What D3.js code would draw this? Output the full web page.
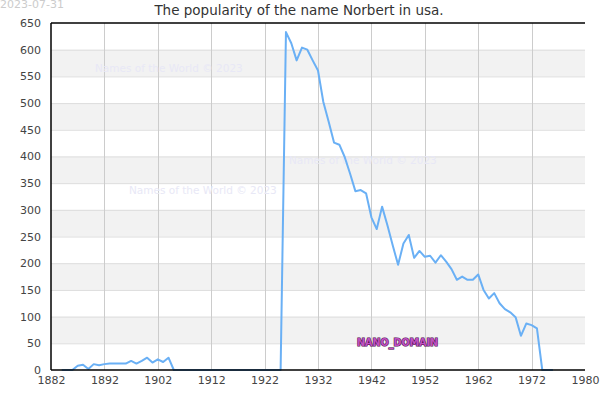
<!DOCTYPE html>
<html><head><meta charset="utf-8">
<script src="https://cdn.jsdelivr.net/npm/d3@7"></script>
<style>body{margin:0;background:#fff}svg{display:block;font-family:"DejaVu Sans",sans-serif}</style>
</head><body><svg id="c" width="600" height="400"></svg>
<script>
const years = d3.range(1884, 1977);
const values = [
  0,0,0,8,10,2,11,9,11,12,12,12,12,17,12,17,23,14,20,15,23,0, // 1884-1905
  0,0,0,0,0,0,0,0,0,0,0,0,0,0,0,0,0,0,0,0, // 1906-1925
  633,612,580,604,600,580,561,502,465,426,422,399,368,335,337,331,286,264,306,271,233,197,237,253,210, // 1926-1950
  223,212,214,201,215,203,189,169,175,169,169,179,150,134,144,125,114,108,99,64,87,84,78, // 1951-1973
  0,0,0 // 1974-1976
];
const xTicks = [1882,1892,1902,1912,1922,1932,1942,1952,1962,1972,1982];
const xTickLabels = ["1882","1892","1902","1912","1922","1932","1942","1952","1962","1972","1980"];
const yTicks = [0,50,100,150,200,250,300,350,400,450,500,550,600,650];
const title = "The popularity of the name Norbert in usa.";
const dateText = "2023-07-31";
const watermark = "Names of the World © 2023";
const domainText = "NANO_DOMAIN";

const data = years.map((y,i)=>({year:y, v:values[i]}));
const svg = d3.select("#c");
const L=51, R=585, T=23, B=370;
const x = d3.scaleLinear().domain([1882,1982]).range([L,R]);
const y = d3.scaleLinear().domain([0,650]).range([B,T]);

// bands
const bands = [[50,100],[150,200],[250,300],[350,400],[450,500],[550,600]];
svg.append("g").selectAll("rect").data(bands).join("rect")
  .attr("x",L).attr("width",R-L)
  .attr("y",d=>y(d[1])).attr("height",d=>y(d[0])-y(d[1]))
  .attr("fill","#f2f2f2");
// horizontal grid
svg.append("g").selectAll("line").data(yTicks.slice(1,-1)).join("line")
  .attr("x1",L).attr("x2",R).attr("y1",d=>y(d)+0.5).attr("y2",d=>y(d)+0.5)
  .attr("stroke","#dddddd").attr("stroke-width",1);
// vertical grid
svg.append("g").selectAll("line").data(xTicks.slice(1,-1)).join("line")
  .attr("y1",T).attr("y2",B).attr("x1",d=>Math.round(x(d))+0.5).attr("x2",d=>Math.round(x(d))+0.5)
  .attr("stroke","#cccccc").attr("stroke-width",1);

// watermarks
const wm = [[95,72],[289,164],[129,194]];
svg.append("g").selectAll("text").data(wm).join("text")
  .attr("x",d=>d[0]).attr("y",d=>d[1]).text(watermark)
  .attr("font-size",10.5).attr("fill","#e8e8f6");

// line
svg.append("path").datum(data)
  .attr("d",d3.line().x(d=>x(d.year)).y(d=>y(d.v)))
  .attr("fill","none").attr("stroke","#6ab0f5").attr("stroke-width",2)
  .attr("stroke-linejoin","round");

// axes lines
const ax = svg.append("g").attr("stroke","#000").attr("stroke-width",1.5);
ax.append("line").attr("x1",L).attr("x2",R).attr("y1",T).attr("y2",T);
ax.append("line").attr("x1",L).attr("x2",R).attr("y1",B).attr("y2",B);
ax.append("line").attr("x1",L).attr("x2",L).attr("y1",T).attr("y2",B);

// y labels
const yAxis = d3.axisLeft(y).tickValues(yTicks).tickSize(0).tickPadding(10);
const gy = svg.append("g").attr("transform",`translate(${L},0)`).call(yAxis);
gy.select(".domain").remove();
gy.selectAll("text").attr("font-size",11).attr("fill","#444").attr("font-family","DejaVu Sans");
// x labels
const xAxis = d3.axisBottom(x).tickValues(xTicks).tickSize(0).tickPadding(6)
  .tickFormat((d,i)=>xTickLabels[i]);
const gx = svg.append("g").attr("transform",`translate(0,${B})`).call(xAxis);
gx.select(".domain").remove();
gx.selectAll("text").attr("font-size",11).attr("fill","#444").attr("font-family","DejaVu Sans");

// title
svg.append("text").attr("x",299).attr("y",15).attr("text-anchor","middle")
  .attr("font-size",13.5).attr("fill","#333").text(title);
// date
svg.append("text").attr("x",0).attr("y",8).attr("font-size",11).attr("fill","#cccccc").text(dateText);
// domain text
svg.append("text").attr("x",357).attr("y",346).attr("font-size",9.6).attr("font-weight","bold")
  .attr("fill","#c050c0").attr("stroke","#501050").attr("stroke-width",1.2)
  .attr("paint-order","stroke").text(domainText);
</script></body></html>
